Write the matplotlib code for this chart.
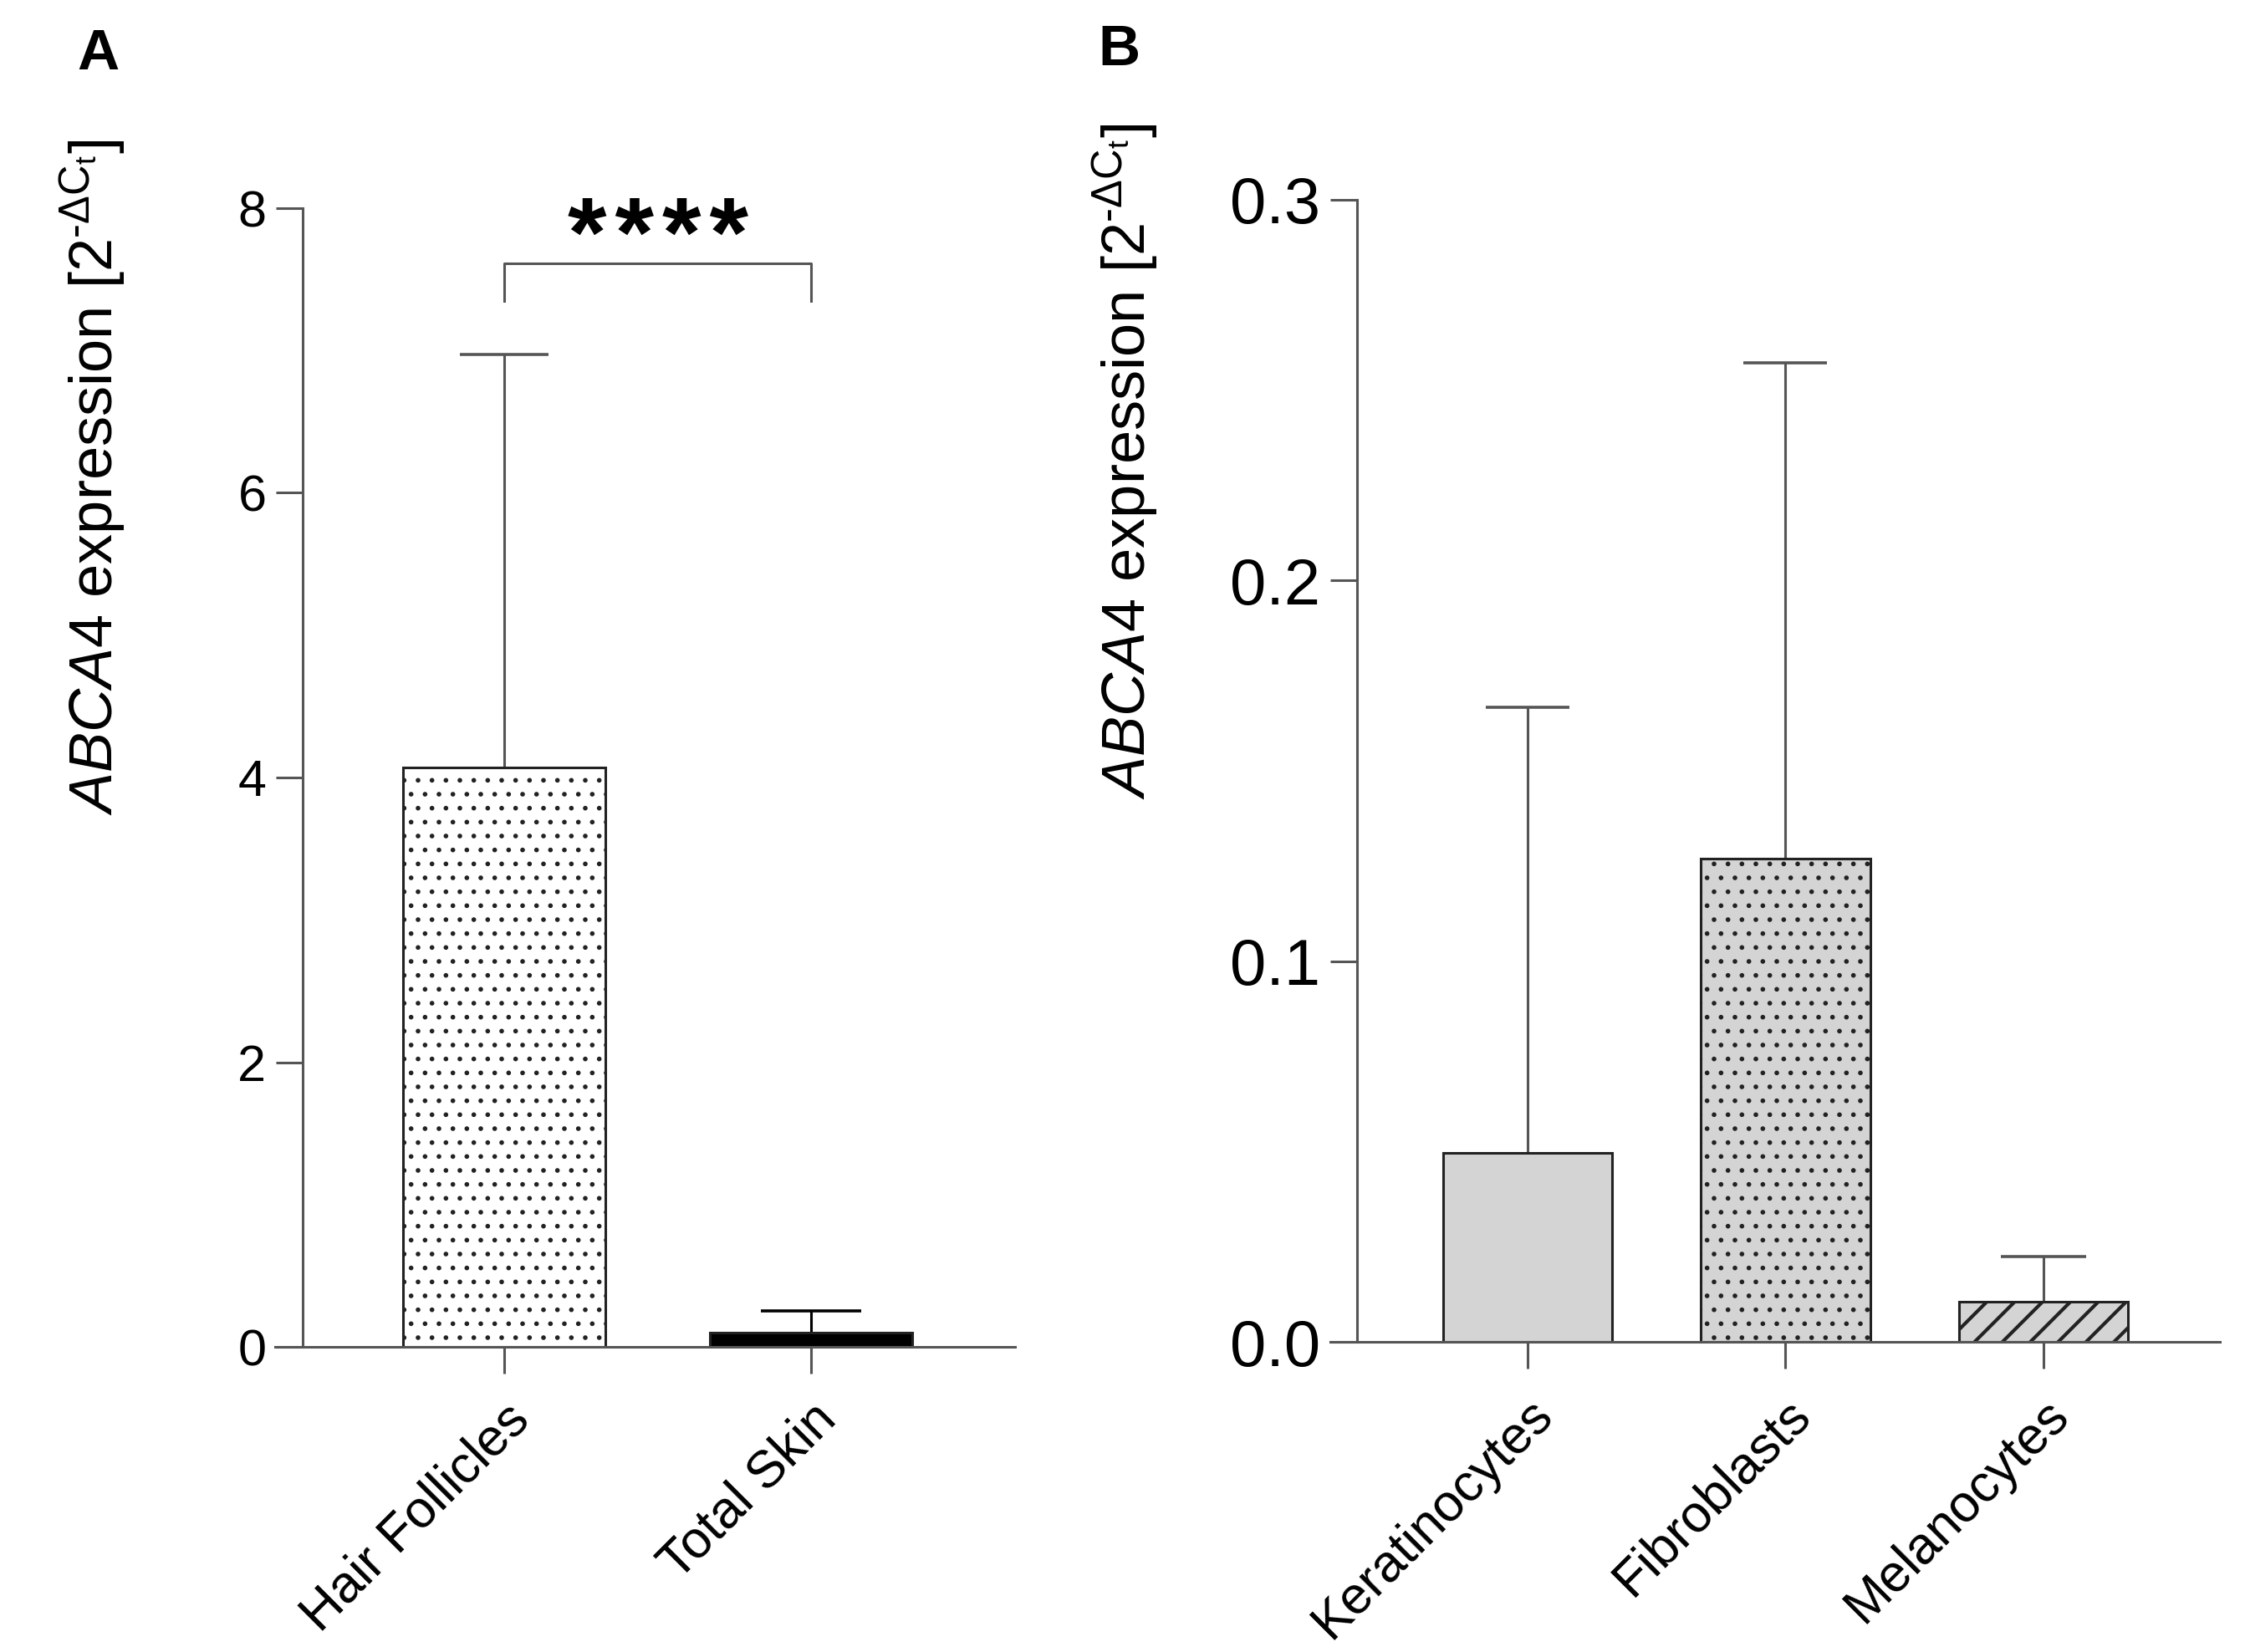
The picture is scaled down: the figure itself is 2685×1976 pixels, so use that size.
import matplotlib

matplotlib.use("Agg")
import matplotlib.pyplot as plt
import matplotlib.transforms as mtransforms
import numpy as np

plt.rcParams["font.family"] = ["Liberation Sans", "DejaVu Sans"]
plt.rcParams["mathtext.fontset"] = "custom"
plt.rcParams["mathtext.rm"] = "Liberation Sans"
plt.rcParams["mathtext.it"] = "Liberation Sans:italic"
plt.rcParams["mathtext.bf"] = "Liberation Sans:bold"
plt.rcParams["hatch.linewidth"] = 0.8

# panel A: tissue
tissue_names = ["Hair Follicles", "Total Skin"]
tissue_mean = [4.07, 0.10]
tissue_sd = [2.90, 0.15]
tissue_yticks = [0, 2, 4, 6, 8]
tissue_ytick_labels = ["0", "2", "4", "6", "8"]
signif_label = "*\u200a*\u200a*\u200a*"
bracket_heights = [7.35, 7.61]

# panel B: cultured cells
cell_names = ["Keratinocytes", "Fibroblasts", "Melanocytes"]
cell_mean = [0.0496, 0.1269, 0.0105]
cell_sd = [0.1172, 0.1303, 0.0119]
cell_yticks = [0.0, 0.1, 0.2, 0.3]
cell_ytick_labels = ["0.0", "0.1", "0.2", "0.3"]

ylabel = r"$\mathit{ABCA4}$ expression [2$^{\text{-}\mathrm{\Delta C_t}}$]"

AXIS_COLOR = "#555555"
EDGE_COLOR = "#222222"
NARROW = ["Liberation Sans Narrow", "Liberation Sans", "DejaVu Sans"]
W, H = 2685, 1976

fig = plt.figure(figsize=(W / 200, H / 200), dpi=200)


def px_axes(left, top, right, bottom):
    return fig.add_axes([left / W, 1 - bottom / H, (right - left) / W, (bottom - top) / H])


def style_axis(ax, spine_at, ylim, xlim, yticks, ytick_labels, names, tick_size):
    ax.set_xlim(*xlim)
    ax.set_ylim(*ylim)
    for side in ("top", "right"):
        ax.spines[side].set_visible(False)
    ax.spines["left"].set_position(("axes", spine_at))
    for side in ("left", "bottom"):
        ax.spines[side].set_color(AXIS_COLOR)
        ax.spines[side].set_linewidth(1.1)
    ax.set_yticks(yticks, labels=ytick_labels, fontsize=tick_size, family=NARROW)
    ax.set_xticks(np.arange(len(names)))
    ax.set_xticklabels(names, rotation=45, ha="right", va="top", rotation_mode="anchor", fontsize=22.5)
    shift = mtransforms.ScaledTranslation(6 / 72, 0, fig.dpi_scale_trans)
    for label in ax.get_xticklabels():
        label.set_transform(label.get_transform() + shift)
    ax.tick_params(axis="y", length=11.5, width=1.1, color=AXIS_COLOR, pad=4.2)
    ax.tick_params(axis="x", length=11.5, width=1.1, color=AXIS_COLOR, pad=9)


def draw_errors(ax, xs, means, sds, colors, capsizes):
    for x, m, s, c, cap in zip(xs, means, sds, colors, capsizes):
        _, caps, _ = ax.errorbar(
            [x], [m], yerr=[[0], [s]], fmt="none", ecolor=c, elinewidth=1.1,
            capsize=cap, capthick=1.3, zorder=1,
        )
        caps[0].set_visible(False)


# ---- panel A
axA = px_axes(329, 249, 1214, 1611)
xa = np.arange(len(tissue_names))
axA.bar(xa, tissue_mean, width=0.66, color=["white", "black"], edgecolor=EDGE_COLOR,
        hatch="..", linewidth=1.1, zorder=2)
axA.patches[1].set_hatch(None)
draw_errors(axA, xa, tissue_mean, tissue_sd, [AXIS_COLOR, "black"], [19, 21.5])
style_axis(axA, 0.0373, (0, 8), (-0.747, 1.665), tissue_yticks, tissue_ytick_labels,
           tissue_names, 22)
axA.plot([xa[0], xa[0], xa[1], xa[1]],
         [bracket_heights[0], bracket_heights[1], bracket_heights[1], bracket_heights[0]],
         color=AXIS_COLOR, linewidth=1.1)
axA.text(xa.mean(), bracket_heights[0] + 0.24, signif_label, ha="center", va="baseline",
         fontsize=43, fontweight="bold")

# ---- panel B
axB = px_axes(1591, 239, 2655, 1605)
xb = np.arange(len(cell_names))
bars = axB.bar(xb, cell_mean, width=0.655, color="#d4d4d4", edgecolor=EDGE_COLOR,
               linewidth=1.1, zorder=2)
bars[1].set_hatch("..")
bars[2].set_hatch("//")
if hasattr(bars[2], "set_hatch_linewidth"):
    bars[2].set_hatch_linewidth(1.5)
draw_errors(axB, xb, cell_mean, cell_sd, [AXIS_COLOR] * 3, [18, 18, 18.5])
style_axis(axB, 0.030, (0, 0.3), (-0.765, 2.684), cell_yticks, cell_ytick_labels,
           cell_names, 28)

fig.text(111 / W, 1 - 571 / H, ylabel, rotation=90, ha="center", va="center", fontsize=26)
fig.text(1346 / W, 1 - 552 / H, ylabel, rotation=90, ha="center", va="center", fontsize=26)
fig.text(117 / W, 1 - 65 / H, "A", ha="center", va="center", fontsize=25, fontweight="bold")
fig.text(1338 / W, 1 - 60 / H, "B", ha="center", va="center", fontsize=25, fontweight="bold")

fig.savefig("out.png", dpi=200)
